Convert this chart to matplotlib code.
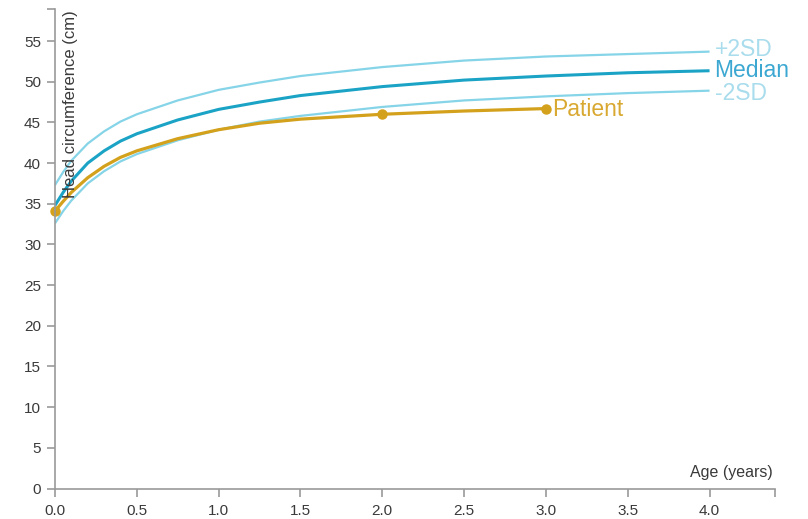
import matplotlib
matplotlib.use("Agg")
import matplotlib.pyplot as plt
from matplotlib.transforms import offset_copy

# ---- data ----
ages = [0, 0.05, 0.1, 0.2, 0.3, 0.4, 0.5, 0.75, 1.0, 1.25, 1.5, 2.0, 2.5, 3.0, 3.5, 4.0]
plus2sd = [37.3, 38.9, 40.3, 42.4, 43.9, 45.1, 46.0, 47.7, 49.0, 49.9, 50.7, 51.8, 52.6, 53.1, 53.4, 53.7]
median = [34.8, 36.4, 37.8, 40.0, 41.5, 42.7, 43.6, 45.3, 46.6, 47.5, 48.3, 49.4, 50.2, 50.7, 51.1, 51.35]
minus2sd = [32.6, 34.1, 35.4, 37.5, 39.0, 40.2, 41.1, 42.8, 44.1, 45.1, 45.8, 46.9, 47.7, 48.2, 48.6, 48.9]

patient_ages = [0, 0.05, 0.1, 0.2, 0.3, 0.4, 0.5, 0.75, 1.0, 1.25, 1.5, 2.0, 2.5, 3.0]
patient_hc = [34.1, 35.3, 36.4, 38.2, 39.6, 40.7, 41.5, 43.0, 44.1, 44.9, 45.4, 46.0, 46.4, 46.7]
visit_ages = [0, 2.0, 3.0]
visit_hc = [34.1, 46.0, 46.7]

x_ticks = [0.0, 0.5, 1.0, 1.5, 2.0, 2.5, 3.0, 3.5, 4.0]
y_ticks = [0, 5, 10, 15, 20, 25, 30, 35, 40, 45, 50, 55]
x_max = 4.4
y_max = 59

# ---- style ----
C_SD = "#86d4e8"
C_SD_TXT = "#a9dcec"
C_MED = "#1ba3c6"
C_MED_TXT = "#3ca8d2"
C_PAT = "#d4a11c"
C_PAT_TXT = "#d8a830"
C_AXIS = "#9a9a9a"
C_TXT = "#3a3a3a"

plt.rcParams['font.family'] = ['Liberation Sans', 'DejaVu Sans']

fig = plt.figure(figsize=(8.08, 5.19), dpi=100)
ax = fig.add_axes([55/808, 30.5/519, 720/808, 480/519])

ax.plot(ages, plus2sd, color=C_SD, lw=1.6, solid_capstyle='butt')
ax.plot(ages, minus2sd, color=C_SD, lw=1.6, solid_capstyle='butt')
ax.plot(ages, median, color=C_MED, lw=2.2, solid_capstyle='butt')
ax.plot(patient_ages, patient_hc, color=C_PAT, lw=2.3, solid_capstyle='butt')
ax.plot(visit_ages, visit_hc, ls='none', marker='o', ms=6.5, color=C_PAT, clip_on=False)

ax.set_xlim(0, x_max)
ax.set_ylim(0, y_max)

for s in ['top', 'right']:
    ax.spines[s].set_visible(False)
for s in ['left', 'bottom']:
    ax.spines[s].set_color(C_AXIS)
    ax.spines[s].set_linewidth(1.2)

ax.set_xticks(x_ticks)
ax.set_xticklabels([f"{v:.1f}" for v in x_ticks])
ax.set_yticks(y_ticks)
ax.set_yticklabels([str(v) for v in y_ticks])
ax.set_xticks([x_max], minor=True)
ax.set_yticks([y_max], minor=True)
ax.tick_params(which='both', direction='out', length=6, width=1.2, color=C_AXIS,
               labelsize=11, labelcolor=C_TXT)
ax.tick_params(axis='x', pad=5)
ax.tick_params(axis='y', pad=4)

# end labels for the reference curves
def end_label(x, y, text, color, dx=5):
    t = offset_copy(ax.transData, fig=fig, x=dx, y=0, units='dots')
    ax.text(x, y, text, transform=t, color=color, fontsize=16.5,
            ha='left', va='center', clip_on=False)

end_label(ages[-1], plus2sd[-1] + 0.3, "+2SD", C_SD_TXT)
end_label(ages[-1], median[-1], "Median", C_MED_TXT)
end_label(ages[-1], minus2sd[-1] - 0.4, "-2SD", C_SD_TXT)
end_label(visit_ages[-1], visit_hc[-1] - 0.1, "Patient", C_PAT_TXT, dx=6)

# axis titles
ty = offset_copy(ax.transAxes, fig=fig, x=8, y=-2, units='dots')
ax.text(0, 1, "Head circumference (cm)", transform=ty, rotation=90,
        ha='left', va='top', fontsize=12, color=C_TXT)
tx = offset_copy(ax.transAxes, fig=fig, x=-2, y=8, units='dots')
ax.text(1, 0, "Age (years)", transform=tx, ha='right', va='bottom',
        fontsize=11.5, color=C_TXT)

fig.savefig("out.png", dpi=100)
